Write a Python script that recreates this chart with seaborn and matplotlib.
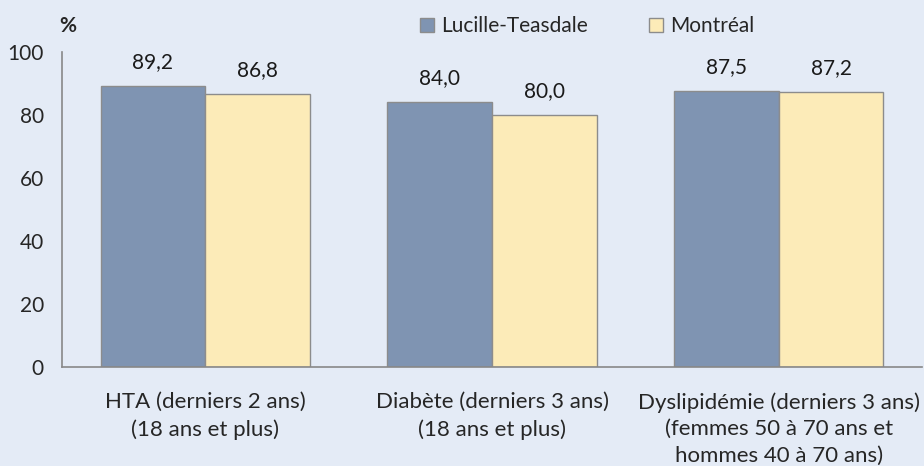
import numpy as np
import pandas as pd
import matplotlib
matplotlib.use('Agg')
import matplotlib.pyplot as plt
import seaborn as sns

categories = ['HTA (derniers 2 ans)\n(18 ans et plus)',
              'Diabète (derniers 3 ans)\n(18 ans et plus)',
              'Dyslipidémie (derniers 3 ans)\n(femmes 50 à 70 ans et\nhommes 40 à 70 ans)']
lucille = [89.2, 84.0, 87.5]
montreal = [86.8, 80.0, 87.2]
series = ['Lucille-Teasdale', 'Montréal']
colors = ['#7F94B2', '#FCEBB8']

sns.set_style('white')
plt.rcParams['font.family'] = ['Lato', 'DejaVu Sans']

bg = '#E4EBF6'
df = pd.DataFrame({
    'cat': categories * 2,
    'val': lucille + montreal,
    'serie': [series[0]] * 3 + [series[1]] * 3,
})

fig = plt.figure(figsize=(9.24, 4.66), dpi=100, facecolor=bg)
ax = fig.add_axes([0.067, 0.2125, 0.931, 0.676], facecolor=bg)

sns.barplot(data=df, x='cat', y='val', hue='serie', palette=colors,
            width=0.73, edgecolor='#8C8C8C', linewidth=1, saturation=1,
            errorbar=None, ax=ax)

for cont in ax.containers:
    ax.bar_label(cont, labels=[f'{v:.1f}'.replace('.', ',') for v in cont.datavalues],
                 padding=10, fontsize=15, color='#1a1a1a')

ax.set_ylim(0, 100)
ax.set_yticks(np.arange(0, 101, 20))
ax.set_xlim(-0.5, 2.5)
ax.set_xticks([-0.5, 0.5, 1.5, 2.5])
ax.set_xticklabels([])
ax.set_xticks([0, 1, 2], minor=True)
ax.set_xticklabels(categories, minor=True, fontsize=16, linespacing=1.42)
ax.tick_params(axis='x', which='major', length=7, color='#888888', direction='out')
ax.tick_params(axis='x', which='minor', length=0, pad=18)
ax.tick_params(axis='y', length=5, color='#888888', labelsize=15, pad=8)
ax.set_xlabel('')
ax.set_ylabel('')

for s in ['top', 'right']:
    ax.spines[s].set_visible(False)
for s in ['left', 'bottom']:
    ax.spines[s].set_color('#888888')
    ax.spines[s].set_linewidth(1.2)

fig.text(0.073, 0.945, '%', fontsize=15, fontweight='bold', ha='center', va='center')

handles, labels = ax.get_legend_handles_labels()
ax.get_legend().remove()
fig.legend(handles, labels, loc='center left', bbox_to_anchor=(0.455, 0.944), ncol=2,
           frameon=False, fontsize=15, handlelength=0.67, handleheight=0.67,
           handletextpad=0.33, columnspacing=2.95, borderaxespad=0, borderpad=0)

plt.savefig('out.png', dpi=100, facecolor=bg)
